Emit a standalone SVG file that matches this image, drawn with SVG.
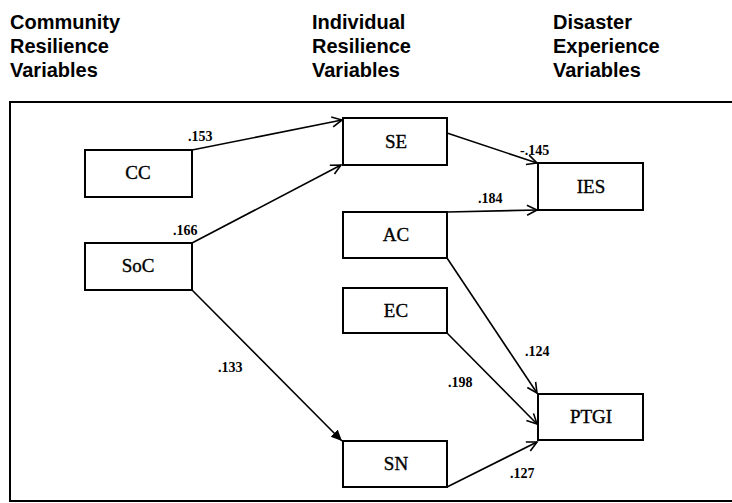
<svg xmlns="http://www.w3.org/2000/svg" width="732" height="503" viewBox="0 0 732 503">
<style>
.hdr{font-family:"Liberation Sans",Arial,sans-serif;font-weight:bold;font-size:20px;fill:#000}
.box{fill:#fff;stroke:#000;stroke-width:2}
.lbl{font-family:"Liberation Serif","Times New Roman",serif;font-size:19px;fill:#000;stroke:#000;stroke-width:0.35;text-anchor:middle}
.edge{stroke:#000;stroke-width:1.6;fill:none}
.coef{font-family:"Liberation Serif","Times New Roman",serif;font-weight:bold;font-size:14px;fill:#000}
</style>
<defs>
<marker id="open" markerUnits="userSpaceOnUse" markerWidth="14" markerHeight="14" refX="11" refY="6" orient="auto">
<path d="M1,1 L11,6 L1,11" fill="none" stroke="#000" stroke-width="1.6"/>
</marker>
<marker id="solid" markerUnits="userSpaceOnUse" markerWidth="14" markerHeight="14" refX="11" refY="5" orient="auto">
<path d="M0,0 L11,5 L0,10 Z" fill="#000"/>
</marker>
</defs>
<rect width="732" height="503" fill="#fff"/>
<g id="headers">
<text class="hdr" x="10" y="28.5">Community</text>
<text class="hdr" x="10" y="53">Resilience</text>
<text class="hdr" x="10" y="77">Variables</text>
<text class="hdr" x="312" y="28.5">Individual</text>
<text class="hdr" x="312" y="53">Resilience</text>
<text class="hdr" x="312" y="77">Variables</text>
<text class="hdr" x="553" y="28.5">Disaster</text>
<text class="hdr" x="553" y="53">Experience</text>
<text class="hdr" x="553" y="77">Variables</text>
</g>
<rect id="frame" x="10" y="102" width="730" height="399" fill="none" stroke="#000" stroke-width="2"/>
<g id="connectors">
<line class="edge" x1="192" y1="150" x2="342" y2="120" marker-end="url(#open)"/>
<line class="edge" x1="192" y1="243" x2="341" y2="165" marker-end="url(#open)"/>
<line class="edge" x1="192" y1="290" x2="342" y2="441" marker-end="url(#solid)"/>
<line class="edge" x1="447" y1="133" x2="537" y2="163" marker-end="url(#open)"/>
<line class="edge" x1="447" y1="212" x2="537" y2="210" marker-end="url(#open)"/>
<line class="edge" x1="447" y1="258" x2="537" y2="393" marker-end="url(#open)"/>
<line class="edge" x1="447" y1="333" x2="537" y2="424" marker-end="url(#open)"/>
<line class="edge" x1="447" y1="487" x2="537" y2="442" marker-end="url(#open)"/>
<text class="coef" x="188" y="141">.153</text>
<text class="coef" x="173" y="235">.166</text>
<text class="coef" x="520" y="155">-.145</text>
<text class="coef" x="478" y="203">.184</text>
<text class="coef" x="218" y="372">.133</text>
<text class="coef" x="525" y="356">.124</text>
<text class="coef" x="448" y="387">.198</text>
<text class="coef" x="510" y="478">.127</text>
</g>
<g id="CC"><rect class="box" x="85" y="150" width="107" height="47"/><text class="lbl" x="138" y="179">CC</text></g>
<g id="SoC"><rect class="box" x="85" y="243" width="107" height="47"/><text class="lbl" x="138" y="272">SoC</text></g>
<g id="SE"><rect class="box" x="343" y="118" width="104" height="47"/><text class="lbl" x="396" y="147.5">SE</text></g>
<g id="AC"><rect class="box" x="343" y="212" width="104" height="46"/><text class="lbl" x="396" y="241">AC</text></g>
<g id="EC"><rect class="box" x="343" y="288" width="104" height="45"/><text class="lbl" x="396" y="316.5">EC</text></g>
<g id="SN"><rect class="box" x="343" y="441" width="104" height="46"/><text class="lbl" x="396" y="470">SN</text></g>
<g id="IES"><rect class="box" x="538" y="163" width="105" height="47"/><text class="lbl" x="591" y="192.5">IES</text></g>
<g id="PTGI"><rect class="box" x="538" y="394" width="105" height="46"/><text class="lbl" x="591" y="423">PTGI</text></g>
</svg>
